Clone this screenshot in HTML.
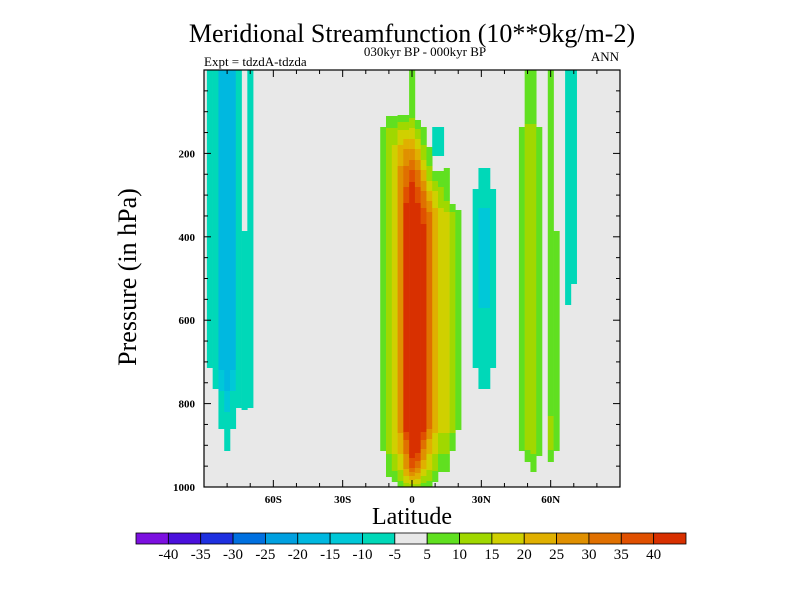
<!DOCTYPE html>
<html><head><meta charset="utf-8"><style>
body{margin:0;background:#fff;}
svg text{font-family:"Liberation Serif",serif;fill:#000;}
</style></head><body>
<svg id="chart" width="800" height="600" viewBox="0 0 800 600" xmlns="http://www.w3.org/2000/svg">
<rect x="0" y="0" width="800" height="600" fill="#fff"/>
<text x="412" y="42" font-size="26" text-anchor="middle">Meridional Streamfunction (10**9kg/m-2)</text>
<text x="425" y="56" font-size="13" text-anchor="middle">030kyr BP - 000kyr BP</text>
<text x="204" y="66" font-size="13">Expt = tdzdA-tdzda</text>
<text x="619" y="61" font-size="13" text-anchor="end">ANN</text>
<g id="field"></g>
<g id="axes"></g>
<text transform="translate(136,277) rotate(-90)" font-size="26" text-anchor="middle">Pressure (in hPa)</text>
<text x="412" y="524" font-size="24" text-anchor="middle">Latitude</text>
<g id="cbar"></g>
</svg>
<script>
// Data: grid rows at pressures 0..1000 step 50; columns at latitudes -90..90 step 2.5
const pressures = [0,50,100,150,200,250,300,350,400,450,500,550,600,650,700,750,800,850,900,950,1000];
const codeValues = {'.':0,'h':3,'1':7,'2':12,'3':17,'4':22,'5':27,'6':32,'7':37,'8':45,'a':-7,'b':-12,'c':-17};
const gridRows = [
".aaccca.a"+"....................."+"......1........."+"........."+".11..1..aa."+".......",
".aaccca.a"+"....................."+"......1........."+"........."+".11..1..aa."+".......",
".aaccca.a"+"....................."+"..hhhh1........."+"........."+".11..1..aa."+".......",
".aaccca.a"+"....................."+".12233321.aa...."+"........."+"1221.1..aa."+".......",
".aaccca.a"+"....................."+".123455421aa...."+"........."+"1221.1..aa."+".......",
".aaccca.a"+"....................."+".123567642111..."+"..aa....."+"1221.1..aa."+".......",
".aaccca.a"+"....................."+".123578764321..."+".aaaa...."+"1221.1..aa."+".......",
".aaccca.a"+"....................."+".12358887643321."+".abba...."+"1221.1..aa."+".......",
".aacccaaa"+"....................."+".12358888643321."+".abba...."+"1221.11.aa."+".......",
".aacccaaa"+"....................."+".12358888643321."+".abba...."+"1221.11.aa."+".......",
".aacccaaa"+"....................."+".12358888643321."+".abba...."+"1221.11.aa."+".......",
".aacccaaa"+"....................."+".12358888643321."+".abba...."+"1221.11.a.."+".......",
".aacccaaa"+"....................."+".12358888643321."+".aaaa...."+"1221.11...."+".......",
".aacccaaa"+"....................."+".12358888643321."+".aaaa...."+"1221.11...."+".......",
".aacccaaa"+"....................."+".12358888643321."+".aaaa...."+"1221.11...."+".......",
"..abcbaaa"+"....................."+".12358888643321."+"..aa....."+"1221.11...."+".......",
"...abaaaa"+"....................."+".12358888643321."+"........."+"1221.11...."+".......",
"...aaah.h"+"....................."+".12358888643321."+"........."+"1221.21...."+".......",
"...hah..."+"....................."+".1234688643221.."+"........."+"1221.21...."+".......",
"........."+"....................."+"..12357643211..."+"........."+".h1h.h....."+".......",
"........."+"....................."+"..hh122211h....."+"........."+"..........."+"......."
];
const levels = [-40,-35,-30,-25,-20,-15,-10,-5,5,10,15,20,25,30,35,40];
const levelColors = ["#7c10e0","#4a10dc","#1e30e0","#0070e0","#00a0e0","#00b8e0","#00c8d8","#00d8b8","#e8e8e8","#60e020","#a0d800","#d0d000","#e0b000","#e09000","#e07000","#e05000","#d83000"];
const xTickLats = [-90,-80,-70,-60,-50,-40,-30,-20,-10,0,10,20,30,40,50,60,70,80,90];
const xLabelLats = [-60,-30,0,30,60];
const xLabels = ["60S","30S","0","30N","60N"];
const yTicks = [0,50,100,150,200,250,300,350,400,450,500,550,600,650,700,750,800,850,900,950,1000];
const yLabelTicks = [200,400,600,800,1000];

const NS="http://www.w3.org/2000/svg";
const X0=204,X1=620,Y0=70,Y1=487;
function xScale(lat){return 412+(lat)*(X1-X0)/180;}
function yScale(p){return Y0+p*(Y1-Y0)/1000;}
function colorFor(v){let i=0;while(i<levels.length&&v>=levels[i])i++;return levelColors[i];}
function mk(tag,attrs,parent){const e=document.createElementNS(NS,tag);for(const k in attrs)e.setAttribute(k,attrs[k]);parent.appendChild(e);return e;}

const field=document.getElementById('field');
const bg=mk('rect',{x:X0,y:Y0,width:X1-X0,height:Y1-Y0,fill:'#e8e8e8'},field);


const ncol=gridRows[0].length;
const dp=pressures[1]-pressures[0];
for(let j=0;j<ncol;j++){
  const lat=-90+2.5*j;
  const xa=Math.max(X0,xScale(lat-1.25)), xb=Math.min(X1,xScale(lat+1.25));
  const vals=gridRows.map(r=>codeValues[r[j]]);
  let runStart=Y0,runColor=null;
  for(let y=Y0;y<=Y1;y++){
    let c=null;
    if(y<Y1){
      const p=(y+0.5-Y0)*1000/(Y1-Y0);
      let f=p/dp;let i=Math.min(Math.floor(f),pressures.length-2);let t=f-i;
      const v=vals[i]*(1-t)+vals[i+1]*t;
      c=colorFor(v);
    }
    if(c!==runColor){
      if(runColor&&runColor!=="#e8e8e8"){
        const r=mk('rect',{x:xa.toFixed(2),y:runStart,width:(xb-xa+0.3).toFixed(2),height:y-runStart,fill:runColor},field);
        
        
      }
      runStart=y;runColor=c;
    }
  }
}

const axes=document.getElementById('axes');
const frame=mk('rect',{x:X0,y:Y0,width:X1-X0,height:Y1-Y0,fill:'none',stroke:'#000','stroke-width':1.2},axes);


xTickLats.forEach(l=>{
  const x=xScale(l);const len=(l%30===0)?7:4;
  const t1=mk('line',{x1:x,x2:x,y1:Y1,y2:Y1-len,stroke:'#000'},axes);
  
  
  const t2=mk('line',{x1:x,x2:x,y1:Y0,y2:Y0+len,stroke:'#000'},axes);
  
  
});
xLabelLats.forEach((l,i)=>{
  const t=mk('text',{x:xScale(l),y:Y1+16,'font-size':11,'font-weight':'bold','text-anchor':'middle'},axes);
  t.textContent=xLabels[i];
  
  
});
yTicks.forEach(p=>{
  const y=yScale(p);const len=(p%200===0)?7:4;
  const t1=mk('line',{x1:X0,x2:X0+len,y1:y,y2:y,stroke:'#000'},axes);
  
  
  const t2=mk('line',{x1:X1,x2:X1-len,y1:y,y2:y,stroke:'#000'},axes);
  
  
});
yLabelTicks.forEach(p=>{
  const t=mk('text',{x:X0-9,y:yScale(p)+4,'font-size':11,'font-weight':'bold','text-anchor':'end'},axes);
  t.textContent=String(p);
  
  
});

const cbar=document.getElementById('cbar');
const CB0=136,CB1=686,CBY=533,CBH=11;const bw=(CB1-CB0)/levelColors.length;
levelColors.forEach((c,i)=>{
  const r=mk('rect',{x:CB0+i*bw,y:CBY,width:bw,height:CBH,fill:c,stroke:'#000','stroke-width':0.8},cbar);
  
  
});
levels.forEach((v,i)=>{
  const t=mk('text',{x:CB0+(i+1)*bw,y:CBY+CBH+15,'font-size':15,'text-anchor':'middle'},cbar);
  t.textContent=String(v);
  
  
});
</script>
</body></html>
